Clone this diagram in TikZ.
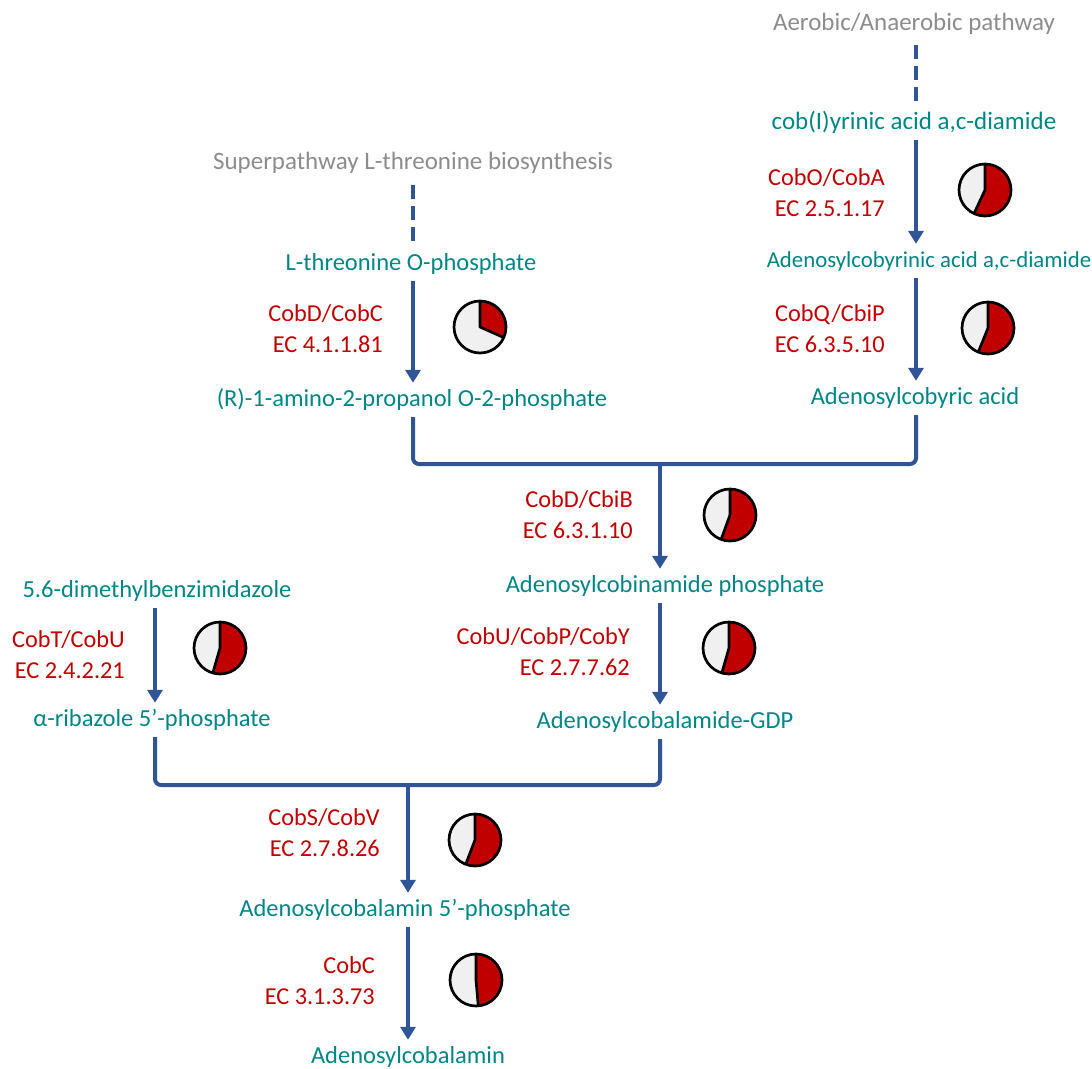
\documentclass[tikz,border=0pt]{standalone}
\usepackage{fontspec}
\setmainfont{Carlito}
\usetikzlibrary{arrows.meta}
\definecolor{metab}{RGB}{0,133,133}
\definecolor{enzred}{RGB}{192,0,0}
\definecolor{pathgray}{RGB}{140,140,140}
\definecolor{flowblue}{RGB}{47,85,151}
\definecolor{pielight}{RGB}{240,240,240}
\tikzset{
  metabolite/.style={text=metab, font=\fontsize{24.5}{28}\selectfont, inner xsep=2pt, inner ysep=6pt, text height=17pt, text depth=5pt},
  pathway/.style={text=pathgray, font=\fontsize{25}{28}\selectfont, inner xsep=2pt, inner ysep=6pt, text height=17pt, text depth=5pt},
  enzyme/.style={text=enzred, font=\fontsize{24.3}{31}\selectfont, align=right, anchor=east, inner sep=0pt},
  flow/.style={draw=flowblue, line width=4pt},
  flowarrow/.style={flow, -{Triangle[width=15pt,length=13pt]}},
  dashflow/.style={draw=flowblue, line width=4.5pt, dash pattern=on 14pt off 7pt},
  pienode/.style={circle, minimum size=52pt, inner sep=0pt, fill=pielight},
  pieline/.style={draw=black, line width=2.7pt},
}
\newcommand\piechart[3]{%
  \node[pienode] (#1) at (#2) {};
  \fill[enzred] (#1.center) -- ([shift={(90:26pt)}]#1.center) arc[start angle=90, end angle=#3, radius=26pt] -- cycle;
  \draw[pieline, line join=round] ([shift={(90:26pt)}]#1.center) -- (#1.center) -- ([shift={(#3:26pt)}]#1.center);
  \draw[pieline] (#1.center) circle[radius=26pt];
}
\begin{document}
\begin{tikzpicture}[x=1pt, y=-1pt]
\useasboundingbox (0,0) rectangle (1092,1068);

% x positions of the flow lines
\coordinate (xR) at (916,0);
\coordinate (xT) at (413,0);
\coordinate (xM) at (660,0);
\coordinate (xD) at (155,0);
\coordinate (xB) at (408,0);

% ---------- right branch ----------
\node[pathway] (aer) at (914,24) {Aerobic/Anaerobic pathway};
\node[metabolite, font=\fontsize{25}{28}\selectfont] (cobI) at (914,123) {cob(I)yrinic acid a,c-diamide};
\node[enzyme] (e1) at (885,193) {CobO/CobA\\EC 2.5.1.17};
\piechart{p1}{985,190}{-115}
\node[metabolite, font=\fontsize{22.8}{26}\selectfont] (adoCbyDiam) at (929,261) {Adenosylcobyrinic acid a,c-diamide};
\node[enzyme] (e2) at (885,329) {CobQ/CbiP\\EC 6.3.5.10};
\piechart{p2}{988,328}{-112}
\node[metabolite] (adoCby) at (915,398) {Adenosylcobyric acid};

\coordinate (dR) at (916,45);
\draw[dashflow] (dR) -- (cobI.north -| xR);
\draw[flowarrow] (cobI.south -| xR) -- (adoCbyDiam.north -| xR);
\draw[flowarrow] (adoCbyDiam.south -| xR) -- (adoCby.north -| xR);

% ---------- threonine branch ----------
\node[pathway] (thr) at (413,163) {Superpathway L-threonine biosynthesis};
\node[metabolite] (thrP) at (411,264) {L-threonine O-phosphate};
\node[enzyme] (e3) at (383,329) {CobD/CobC\\EC 4.1.1.81};
\piechart{p3}{480,327}{-24}
\node[metabolite] (amino) at (412,400) {(R)-1-amino-2-propanol O-2-phosphate};

\coordinate (dT) at (413,185);
\draw[dashflow] (dT) -- (thrP.north -| xT);
\draw[flowarrow] (thrP.south -| xT) -- (amino.north -| xT);

% ---------- first junction ----------
\coordinate (yJ1) at (0,464);
\node[metabolite] (adoCbiP) at (665,586) {Adenosylcobinamide phosphate};
\draw[flow, rounded corners=6pt] (amino.south -| xT) -- (yJ1 -| xT) -- (yJ1 -| xR) -- (adoCby.south -| xR);
\draw[flowarrow] (yJ1 -| xM) -- (adoCbiP.north -| xM);
\node[enzyme] (e4) at (633,515) {CobD/CbiB\\EC 6.3.1.10};
\piechart{p4}{730,515}{-110}

\node[metabolite] (adoGDP) at (665,722) {Adenosylcobalamide-GDP};
\node[enzyme] (e5) at (630,652) {CobU/CobP/CobY\\EC 2.7.7.62};
\piechart{p5}{729,648}{-106}
\draw[flowarrow] (adoCbiP.south -| xM) -- (adoGDP.north -| xM);

% ---------- DMB branch ----------
\node[metabolite] (dmb) at (157,591) {5.6-dimethylbenzimidazole};
\node[enzyme] (e6) at (125,655) {CobT/CobU\\EC 2.4.2.21};
\piechart{p6}{220,648}{-106}
\node[metabolite] (ribaz) at (152,720) {α-ribazole 5’-phosphate};
\draw[flowarrow] (dmb.south -| xD) -- (ribaz.north -| xD);

% ---------- second junction ----------
\coordinate (yJ2) at (0,785);
\node[metabolite] (adoCblP) at (405,910) {Adenosylcobalamin 5’-phosphate};
\draw[flow, rounded corners=6pt] (ribaz.south -| xD) -- (yJ2 -| xD) -- (yJ2 -| xM) -- (adoGDP.south -| xM);
\draw[flowarrow] (yJ2 -| xB) -- (adoCblP.north -| xB);
\node[enzyme] (e7) at (380,833) {CobS/CobV\\EC 2.7.8.26};
\piechart{p7}{475,840}{-111}

\node[metabolite] (adoCbl) at (408,1057) {Adenosylcobalamin};
\node[enzyme] (e8) at (375,981) {CobC\\EC 3.1.3.73};
\piechart{p8}{476,980}{-85}
\draw[flowarrow] (adoCblP.south -| xB) -- (adoCbl.north -| xB);
\end{tikzpicture}
\end{document}
